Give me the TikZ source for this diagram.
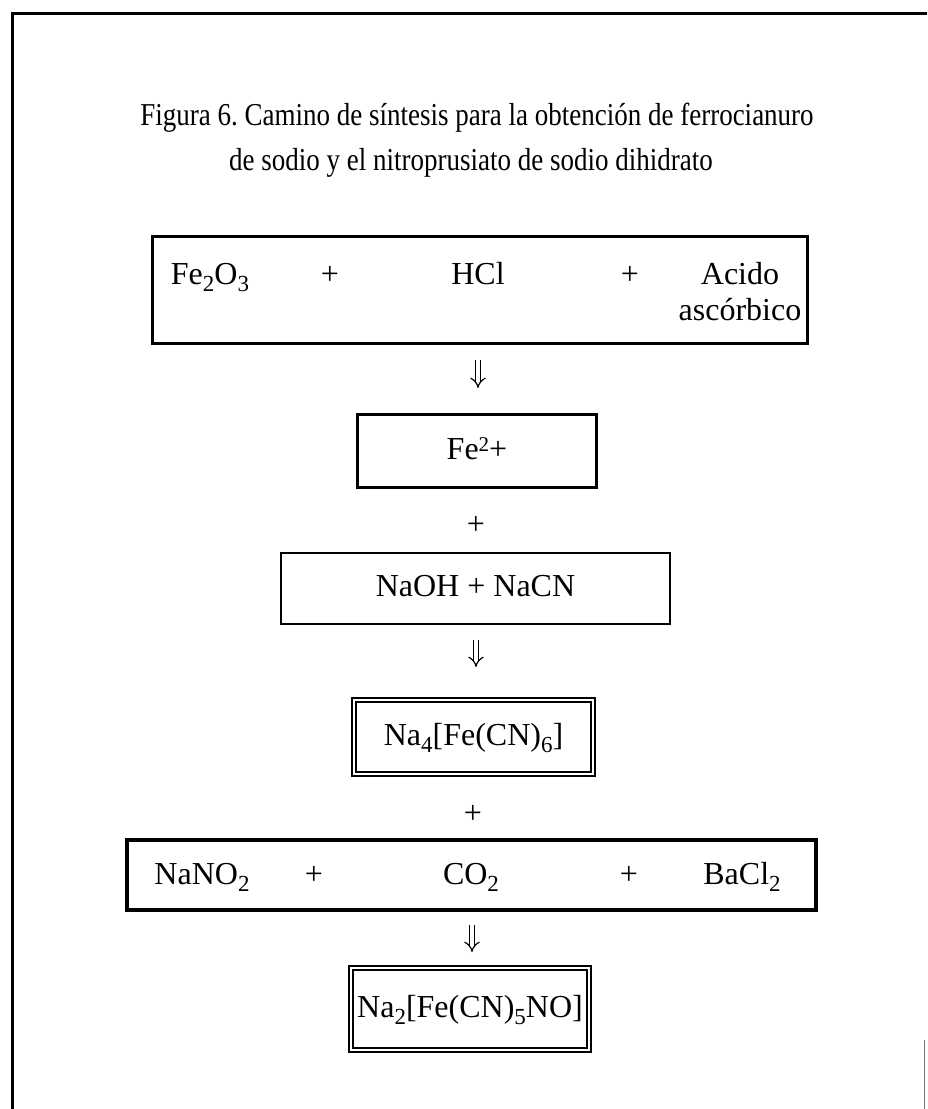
\documentclass[tikz,border=0pt]{standalone}
\usepackage{fontspec}
\setmainfont{Liberation Serif}
\usetikzlibrary{arrows.meta}
\frenchspacing
\newcommand\sbs[1]{\raisebox{-7pt}{\fontsize{23}{23}\selectfont #1}}
\newcommand\sps[1]{\raisebox{8pt}{\fontsize{21}{21}\selectfont #1}}
\newcommand\tallt[1]{\scalebox{1}[1.18]{#1}}
\begin{document}
\begin{tikzpicture}[x=1pt,y=-1pt,
  title/.style={font=\fontsize{27}{31}\selectfont, inner sep=0pt, anchor=base},
  txt/.style={font=\fontsize{32}{36}\selectfont, inner sep=0pt, anchor=base},
  boxtxt/.style={font=\fontsize{32}{36}\selectfont, inner sep=0pt, text height=23pt, text depth=7pt},
  thickbox/.style={draw, line width=3pt, inner sep=0pt},
  thinbox/.style={draw, line width=2pt, inner sep=0pt},
  heavybox/.style={draw, line width=4pt, inner sep=0pt},
  dblbox/.style={draw, double, double distance=2.6pt, line width=1.5pt, inner sep=0pt},
  yields/.style={double, double distance=4.2pt, line width=1.2pt, -{Implies[length=7pt]}}]
\useasboundingbox (0,0) rectangle (927,1109);
% frame
\draw[line width=3pt] (12,1109) -- (12,13) -- (927,13);
\draw[line width=1pt, black!55] (924,1040) -- (924,1109);
% title
\node[title] (t1) at (477,125) {\tallt{Figura 6. Camino de síntesis para la obtención de ferrocianuro}};
\node[title] (t2) at (471,170) {\tallt{de sodio y el nitroprusiato de sodio dihidrato}};
% box 1
\node[thickbox, minimum width=655, minimum height=107] (r1) at (480,290) {};
\node[txt] (fe2o3) at (210,284) {Fe\sbs{2}O\sbs{3}};
\node[txt] (p11) at (330,284) {+};
\node[txt] (hcl) at (478,284) {HCl};
\node[txt] (p12) at (630,284) {+};
\node[txt] (acido) at (740,284) {Acido};
\node[txt] (asc) at (740,320) {ascórbico};
% arrow 1
\coordinate (a1s) at (478,360);
\coordinate (a1e) at (478,388);
\draw[yields] (a1s) -- (a1e);
% Fe2+
\node[thickbox, boxtxt, minimum width=239, minimum height=73] (fe) at (477,451) {Fe\sps{2}+};
\node[txt, anchor=center] (p2) at (476,525) {+};
% NaOH + NaCN
\node[thinbox, boxtxt, minimum width=389, minimum height=71] (naoh) at (475.5,588.5) {NaOH + NaCN};
% arrow 2
\coordinate (a2s) at (476,640);
\coordinate (a2e) at (476,667);
\draw[yields] (a2s) -- (a2e);
% Na4[Fe(CN)6]
\node[dblbox, boxtxt, minimum width=239, minimum height=74] (na4) at (473.5,737) {Na\sbs{4}[Fe(CN)\sbs{6}]};
\node[txt, anchor=center] (p3) at (473,814) {+};
% box NaNO2
\node[heavybox, minimum width=689, minimum height=70] (r4) at (471.5,875) {};
\node[txt] (nano2) at (202,884) {NaNO\sbs{2}};
\node[txt] (p41) at (314,884) {+};
\node[txt] (co2) at (471,884) {CO\sbs{2}};
\node[txt] (p42) at (629,884) {+};
\node[txt] (bacl2) at (742,884) {BaCl\sbs{2}};
% arrow 3
\coordinate (a3s) at (472,925);
\coordinate (a3e) at (472,952);
\draw[yields] (a3s) -- (a3e);
% final
\node[dblbox, boxtxt, minimum width=238, minimum height=82] (np) at (470,1009) {Na\sbs{2}[Fe(CN)\sbs{5}NO]};
\end{tikzpicture}
\end{document}
